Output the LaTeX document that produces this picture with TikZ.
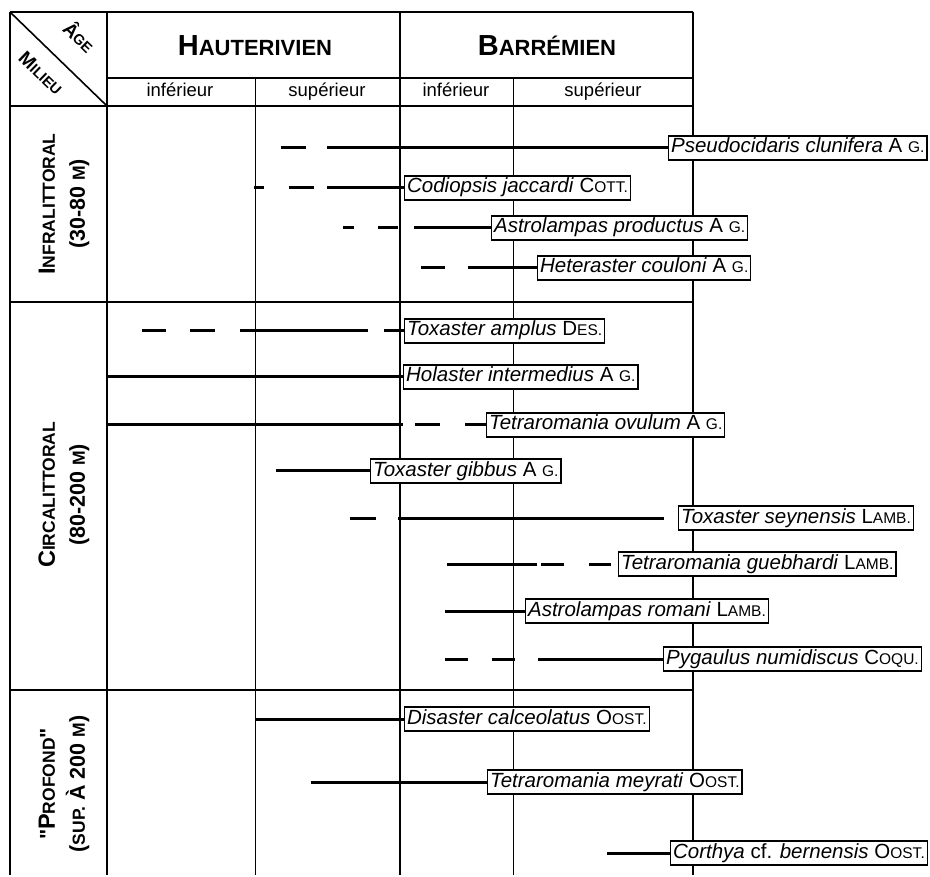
\documentclass[tikz,border=0pt]{standalone}
\usepackage{fontspec}
\setmainfont{Liberation Sans}
\newfontfamily\qf{Liberation Sans}[Ligatures=TeXOff]
\newcommand\au[1]{{\fontsize{15.5}{15.5}\selectfont #1}}
\newcommand\smh[1]{{\fontsize{22}{22}\selectfont #1}}
\newcommand\smb[1]{{\fontsize{17.5}{17.5}\selectfont #1}}
\newcommand\smd[1]{{\fontsize{14.5}{14.5}\selectfont #1}}
\begin{document}
\begin{tikzpicture}[x=1pt,y=-1pt,
  grid/.style={line width=1.6pt},
  thingrid/.style={line width=1pt},
  sp/.style={line width=3pt},
  lab/.style={draw, line width=1.2pt, fill=white, anchor=west, inner xsep=2.5pt, inner ysep=2pt,
              text height=15pt, text depth=5pt, font=\fontsize{20.5}{22}\selectfont},
  sec/.style={rotate=90, align=center, font=\bfseries\fontsize{21.5}{30}\selectfont},
  subh/.style={font=\fontsize{18.5}{20}\selectfont, text height=13pt, text depth=4pt},
  head/.style={font=\bfseries\fontsize{29}{29}\selectfont},
  corner/.style={rotate=-44, font=\bfseries\fontsize{19}{19}\selectfont}]
\useasboundingbox (0,0) rectangle (930,877);
% ---- grid ----
\draw[grid] (10,12) -- (693,12);
\draw[grid] (107,78) -- (693,78);
\draw[grid] (10,106) -- (693,106);
\draw[grid] (10,302) -- (693,302);
\draw[grid] (10,690) -- (693,690);
\draw[grid] (10,12) -- (10,875);
\draw[grid] (107,12) -- (107,875);
\draw[thingrid] (255,78) -- (255,875);
\draw[grid] (400,12) -- (400,875);
\draw[thingrid] (513,78) -- (513,875);
\draw[grid] (693,12) -- (693,875);
\draw[grid] (10,12) -- (107,106);
% ---- header texts ----
\node[corner] (age) at (80,36) {Â\smd{GE}};
\node[corner] (mil) at (41,73) {M\smd{ILIEU}};
\node[head] (hau) at (255,46) {H\smh{AUTERIVIEN}};
\node[head] (bar) at (547,46) {B\smh{ARRÉMIEN}};
\node[subh] (hi) at (180,92) {inférieur};
\node[subh] (hs) at (327,92) {supérieur};
\node[subh] (bi) at (456,92) {inférieur};
\node[subh] (bs) at (603,92) {supérieur};
% ---- section labels ----
\node[sec] (infra) at (64,204) {{\fontsize{23.5}{30}\selectfont I}\smb{NFRALITTORAL}\\(30-80 \smb{M})};
\node[sec] (circa) at (64,495) {{\fontsize{23.5}{30}\selectfont C}\smb{IRCALITTORAL}\\(80-200 \smb{M})};
\node[sec] (prof) at (64,784) {{\qf"}{\fontsize{23.5}{30}\selectfont P}\smb{ROFOND}{\qf"}\\(\smb{SUP.} À 200 \smb{M})};
% ---- species labels ----
\node[lab] (l1) at (668,148) {\textit{Pseudocidaris clunifera} A \au{G.}};
\node[lab] (l2) at (404,188) {\textit{Codiopsis jaccardi} C\au{OTT.}};
\node[lab] (l3) at (491,228) {\textit{Astrolampas productus} A \au{G.}};
\node[lab] (l4) at (537,268) {\textit{Heteraster couloni} A \au{G.}};
\node[lab] (l5) at (404,331) {\textit{Toxaster amplus} D\au{ES.}};
\node[lab] (l6) at (403,377) {\textit{Holaster intermedius} A \au{G.}};
\node[lab] (l7) at (486,425) {\textit{Tetraromania ovulum} A \au{G.}};
\node[lab] (l8) at (370,471) {\textit{Toxaster gibbus} A \au{G.}};
\node[lab] (l9) at (678,518) {\textit{Toxaster seynensis} L\au{AMB.}};
\node[lab] (l10) at (618,564) {\textit{Tetraromania guebhardi} L\au{AMB.}};
\node[lab] (l11) at (525,611) {\textit{Astrolampas romani} L\au{AMB.}};
\node[lab] (l12) at (663,659) {\textit{Pygaulus numidiscus} C\au{OQU.}};
\node[lab] (l13) at (404,719) {\textit{Disaster calceolatus} O\au{OST.}};
\node[lab] (l14) at (487,782) {\textit{Tetraromania meyrati} O\au{OST.}};
\node[lab] (l15) at (670,853) {\textit{Corthya} cf. \textit{bernensis} O\au{OST.}};
% ---- range starts ----
\coordinate (s1) at (281,148);
\coordinate (s2) at (254,188);
\coordinate (s3) at (343,228);
\coordinate (s4) at (421,268);
\coordinate (s5) at (142,331);
\coordinate (s6) at (107,377);
\coordinate (s7) at (107,425);
\coordinate (s8) at (276,471);
\coordinate (s9) at (350,518);
\coordinate (s10) at (447,564);
\coordinate (s11) at (445,611);
\coordinate (s12) at (445,659);
\coordinate (s13) at (255,719);
\coordinate (s14) at (311,782);
\coordinate (s15) at (607,853);
% ---- ranges ----
\draw[sp, dash pattern=on 25pt off 21pt on 999pt] (s1) -- (l1.west);
\draw[sp, dash pattern=on 10pt off 25pt on 25pt off 13pt on 999pt] (s2) -- (l2.west);
\draw[sp, dash pattern=on 11pt off 24pt on 20pt off 16pt on 999pt] (s3) -- (l3.west);
\draw[sp, dash pattern=on 24pt off 23pt on 999pt] (s4) -- (l4.west);
\draw[sp, dash pattern=on 24pt off 24pt on 25pt off 25pt on 128pt off 16pt on 999pt] (s5) -- (l5.west);
\draw[sp] (s6) -- (l6.west);
\draw[sp, dash pattern=on 296pt off 12pt on 25pt off 25pt on 999pt] (s7) -- (l7.west);
\draw[sp] (s8) -- (l8.west);
\draw[sp, dash pattern=on 26pt off 22pt on 266pt off 999pt] (s9) -- (l9.west);
\draw[sp, dash pattern=on 90pt off 4pt on 23pt off 25pt on 22pt off 999pt] (s10) -- (l10.west);
\draw[sp] (s11) -- (l11.west);
\draw[sp, dash pattern=on 23pt off 24pt on 23pt off 23pt on 999pt] (s12) -- (l12.west);
\draw[sp] (s13) -- (l13.west);
\draw[sp] (s14) -- (l14.west);
\draw[sp] (s15) -- (l15.west);
\end{tikzpicture}
\end{document}
